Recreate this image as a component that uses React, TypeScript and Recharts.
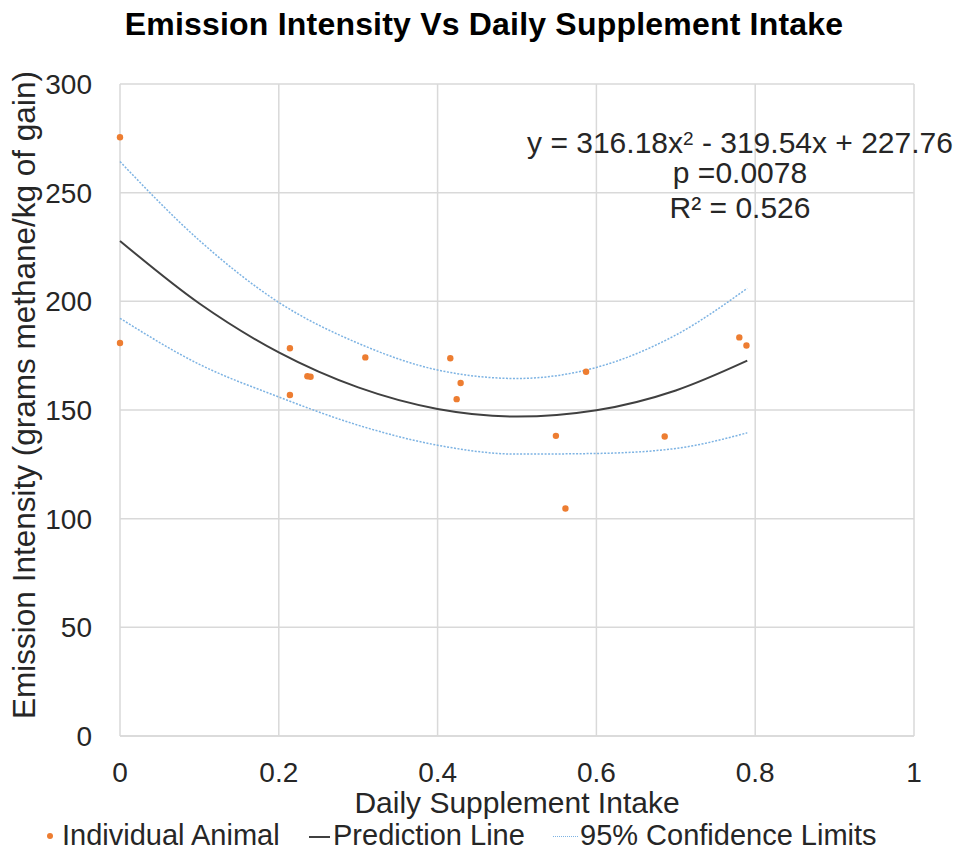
import { CartesianGrid, ComposedChart, Line, Scatter, XAxis, YAxis } from "recharts";

// individual animals
const animalIntake = [0, 0, 0.214, 0.214, 0.236, 0.24, 0.309, 0.416, 0.429, 0.424, 0.549, 0.561, 0.587, 0.686, 0.78, 0.789];
const animalEmission = [275.5, 180.8, 178.4, 156.9, 165.5, 165.3, 174.2, 173.8, 162.4, 155.0, 138.1, 104.7, 167.6, 137.8, 183.4, 179.7];

// fitted curve and 95% limits, sampled along the x range
const curveIntake = [0, 0.1, 0.2, 0.3, 0.4, 0.5, 0.6, 0.7, 0.79];
const predicted = [227.8, 199.0, 176.5, 160.4, 150.5, 147.0, 149.9, 159.0, 172.7];
const upperLimit = [264.3, 228.0, 199.5, 180.7, 168.4, 164.5, 169.6, 184.5, 206.0];
const lowerLimit = [192.2, 171.0, 156.0, 143.0, 133.8, 129.7, 130.0, 132.3, 139.5];

const xTicks = [0, 0.2, 0.4, 0.6, 0.8, 1];
const yTicks = [0, 50, 100, 150, 200, 250, 300];

const FONT = '"Liberation Sans", Arial, Helvetica, sans-serif';
const ORANGE = "#ED7D31";
const DARK = "#404040";
const BLUE = "#7DB3E3";
const GRID = "#d9d9d9";

const animals = animalIntake.map((x, i) => ({ x, y: animalEmission[i] }));
const predRows = curveIntake.map((x, i) => ({ x, y: predicted[i] }));
const upperRows = curveIntake.map((x, i) => ({ x, y: upperLimit[i] }));
const lowerRows = curveIntake.map((x, i) => ({ x, y: lowerLimit[i] }));

const YTitle = (props: any) => {
    const vb = props.viewBox;
    const cy = vb.y + vb.height / 2 - 15;
    return (
        <text x={vb.x + 35} y={cy} transform={`rotate(-90, ${vb.x + 35}, ${cy})`} textAnchor="middle"
            fontSize={31.5} fontFamily={FONT} fill="#262626">
            Emission Intensity (grams methane/kg of gain)
        </text>
    );
}

const XTitle = (props: any) => {
    const vb = props.viewBox;
    return (
        <text x={vb.x + vb.width / 2} y={vb.y + 77} textAnchor="middle" fontSize={30} fontFamily={FONT} fill="#262626">
            Daily Supplement Intake
        </text>
    );
}

const Dot = (p: any) => <circle cx={p.cx} cy={p.cy} r={3.2} fill={ORANGE} />;

const abs = (left: number, top: number, extra: React.CSSProperties = {}): React.CSSProperties => ({
    position: "absolute", left, top, fontFamily: FONT, fontSize: 30, lineHeight: "30px", color: "#262626",
    whiteSpace: "nowrap", ...extra,
});

const legendText = (left: number) => abs(left, 821, { fontSize: 29, lineHeight: "29px" });

export default function App() {
    return (
        <div style={{ position: "absolute", left: 0, top: 0, width: 957, height: 852, overflow: "hidden", background: "#fff" }}>
            <ComposedChart width={957} height={852} margin={{ top: 84, right: 43, bottom: 0, left: 0 }}>
                <CartesianGrid stroke={GRID} strokeWidth={1.5} />
                <XAxis type="number" dataKey="x" domain={[0, 1]} ticks={xTicks} height={116}
                    tickSize={0} tickMargin={26} tickLine={false} axisLine={{ stroke: GRID, strokeWidth: 1.5 }}
                    tick={{ fontSize: 28, fontFamily: FONT, fill: "#262626" }} label={<XTitle />} />
                <YAxis type="number" domain={[0, 300]} ticks={yTicks} width={120}
                    tickSize={0} tickMargin={28} tickLine={false} axisLine={false}
                    tick={{ fontSize: 28, fontFamily: FONT, fill: "#262626" }} label={<YTitle />} />
                <Line data={upperRows} dataKey="y" type="monotone" stroke={BLUE} strokeWidth={1.5}
                    strokeDasharray="2 1.5" dot={false} isAnimationActive={false} />
                <Line data={lowerRows} dataKey="y" type="monotone" stroke={BLUE} strokeWidth={1.5}
                    strokeDasharray="2 1.5" dot={false} isAnimationActive={false} />
                <Line data={predRows} dataKey="y" type="monotone" stroke={DARK} strokeWidth={2}
                    dot={false} isAnimationActive={false} />
                <Scatter data={animals} dataKey="y" shape={Dot} isAnimationActive={false} />
            </ComposedChart>

            <div style={abs(0, 9, { width: 968, textAlign: "center", fontSize: 32, fontWeight: "bold", color: "#000", letterSpacing: 0.2 })}>
                Emission Intensity Vs Daily Supplement Intake
            </div>

            <div style={abs(490, 128, { width: 500, textAlign: "center" })}>
                y = 316.18x<sup style={{ fontSize: 19, verticalAlign: "8px", lineHeight: 0 }}>2</sup> - 319.54x + 227.76
            </div>
            <div style={abs(490, 158, { width: 500, textAlign: "center" })}>p =0.0078</div>
            <div style={abs(490, 193, { width: 500, textAlign: "center" })}>R² = 0.526</div>

            <div style={{ position: "absolute", left: 47, top: 833, width: 6, height: 6, borderRadius: 3, background: ORANGE }} />
            <div style={legendText(62)}>Individual Animal</div>
            <div style={{ position: "absolute", left: 309, top: 836, width: 21, height: 2, background: DARK }} />
            <div style={legendText(333)}>Prediction Line</div>
            <div style={{ position: "absolute", left: 553, top: 836, width: 25, height: 0, borderTop: `1.5px dotted ${BLUE}` }} />
            <div style={legendText(580)}>95% Confidence Limits</div>
        </div>
    );
}
